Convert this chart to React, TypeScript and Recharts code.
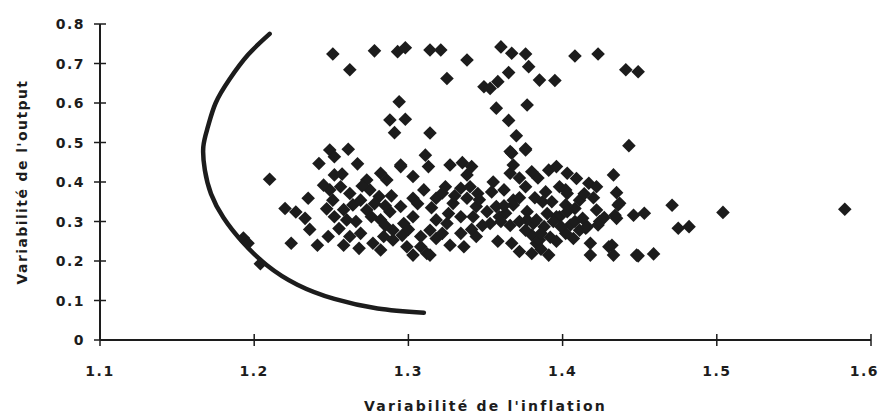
import React from 'react';
import { ComposedChart, Scatter, Line, XAxis, YAxis } from 'recharts';

// [inflation variability, output variability]
const upperPoints: [number, number][] = [
  [1.251, 0.724], [1.262, 0.684], [1.278, 0.732], [1.293, 0.730], [1.298, 0.740],
  [1.294, 0.603], [1.288, 0.557], [1.298, 0.559], [1.291, 0.525], [1.314, 0.524],
  [1.314, 0.734], [1.321, 0.734], [1.338, 0.709], [1.325, 0.662], [1.360, 0.742],
  [1.367, 0.726], [1.376, 0.724], [1.378, 0.692], [1.365, 0.677], [1.358, 0.654],
  [1.349, 0.641], [1.353, 0.637], [1.385, 0.658], [1.395, 0.657], [1.357, 0.587],
  [1.377, 0.595], [1.365, 0.556], [1.370, 0.517], [1.367, 0.473], [1.376, 0.484],
  [1.408, 0.719], [1.423, 0.724], [1.441, 0.684], [1.449, 0.679], [1.443, 0.492],
];

const leftPoints: [number, number][] = [
  [1.210, 0.407], [1.249, 0.481], [1.261, 0.483], [1.252, 0.464], [1.242, 0.447],
  [1.267, 0.446], [1.252, 0.418], [1.249, 0.380], [1.256, 0.388], [1.262, 0.371],
  [1.251, 0.354], [1.235, 0.359], [1.220, 0.333], [1.227, 0.324], [1.233, 0.308],
  [1.236, 0.280], [1.252, 0.312], [1.260, 0.304], [1.264, 0.342], [1.224, 0.245],
  [1.241, 0.240], [1.248, 0.262], [1.193, 0.258], [1.196, 0.245], [1.204, 0.193],
  [1.257, 0.420], [1.245, 0.392], [1.258, 0.330], [1.247, 0.332], [1.255, 0.282],
  [1.262, 0.262], [1.258, 0.240], [1.268, 0.232],
];

const middlePoints: [number, number][] = [
  [1.295, 0.443], [1.311, 0.468], [1.313, 0.439], [1.295, 0.439], [1.303, 0.414],
  [1.282, 0.422], [1.286, 0.405], [1.273, 0.405], [1.327, 0.443], [1.335, 0.449],
  [1.341, 0.439], [1.338, 0.418], [1.324, 0.388], [1.334, 0.384], [1.340, 0.388],
  [1.345, 0.371], [1.354, 0.375], [1.357, 0.338], [1.344, 0.338], [1.338, 0.359],
  [1.329, 0.346], [1.318, 0.359], [1.310, 0.380], [1.303, 0.359], [1.295, 0.338],
  [1.288, 0.325], [1.282, 0.304], [1.273, 0.329], [1.269, 0.354], [1.281, 0.363],
  [1.275, 0.380], [1.318, 0.304], [1.325, 0.295], [1.334, 0.312], [1.342, 0.312],
  [1.351, 0.325], [1.353, 0.295], [1.314, 0.278], [1.303, 0.312], [1.297, 0.295],
  [1.290, 0.278], [1.284, 0.262], [1.277, 0.245], [1.282, 0.228], [1.290, 0.253],
  [1.299, 0.236], [1.303, 0.215], [1.312, 0.219], [1.318, 0.257], [1.327, 0.240],
  [1.334, 0.270], [1.336, 0.236], [1.344, 0.262], [1.269, 0.270], [1.314, 0.215],
  [1.308, 0.236], [1.270, 0.390], [1.278, 0.345], [1.285, 0.340], [1.276, 0.312],
  [1.289, 0.365], [1.266, 0.300], [1.306, 0.345], [1.315, 0.335], [1.322, 0.372],
  [1.330, 0.365], [1.326, 0.320], [1.346, 0.355], [1.348, 0.290], [1.341, 0.280],
  [1.322, 0.270], [1.308, 0.262], [1.296, 0.265], [1.285, 0.290], [1.300, 0.280],
];

const rightPoints: [number, number][] = [
  [1.376, 0.481], [1.366, 0.477], [1.366, 0.422], [1.368, 0.443], [1.380, 0.426],
  [1.391, 0.430], [1.396, 0.439], [1.403, 0.422], [1.409, 0.409], [1.417, 0.397],
  [1.422, 0.388], [1.362, 0.380], [1.376, 0.388], [1.389, 0.375], [1.398, 0.388],
  [1.402, 0.380], [1.403, 0.371], [1.387, 0.350], [1.393, 0.350], [1.402, 0.342],
  [1.408, 0.333], [1.411, 0.354], [1.368, 0.342], [1.368, 0.354], [1.377, 0.325],
  [1.363, 0.321], [1.359, 0.312], [1.398, 0.312], [1.405, 0.291], [1.411, 0.278],
  [1.381, 0.295], [1.388, 0.287], [1.380, 0.266], [1.383, 0.245], [1.376, 0.278],
  [1.367, 0.245], [1.372, 0.224], [1.380, 0.219], [1.391, 0.215], [1.402, 0.270],
  [1.407, 0.257], [1.377, 0.304], [1.383, 0.304], [1.385, 0.253], [1.408, 0.300],
  [1.413, 0.308], [1.396, 0.312], [1.403, 0.325], [1.399, 0.287], [1.415, 0.283],
  [1.422, 0.329], [1.423, 0.291], [1.424, 0.300], [1.416, 0.287], [1.418, 0.245],
  [1.418, 0.215], [1.432, 0.240], [1.430, 0.236], [1.433, 0.215], [1.448, 0.215],
  [1.433, 0.418], [1.435, 0.373], [1.437, 0.346], [1.435, 0.308], [1.436, 0.342],
  [1.434, 0.316], [1.446, 0.316], [1.453, 0.321], [1.471, 0.341], [1.475, 0.283],
  [1.482, 0.287], [1.504, 0.323], [1.583, 0.331], [1.449, 0.213], [1.459, 0.218],
  [1.360, 0.300], [1.358, 0.250], [1.355, 0.400], [1.372, 0.360], [1.382, 0.360],
  [1.390, 0.320], [1.394, 0.300], [1.372, 0.300], [1.366, 0.290], [1.386, 0.270],
  [1.392, 0.260], [1.386, 0.230], [1.396, 0.250], [1.362, 0.340], [1.384, 0.410],
  [1.372, 0.410], [1.414, 0.370], [1.420, 0.360], [1.427, 0.310],
];

// frontier curve, read along the drawn arc from top to bottom
const frontier: [number, number][] = [
  [1.210, 0.775], [1.196, 0.722], [1.184, 0.660], [1.175, 0.600], [1.170, 0.540],
  [1.167, 0.489], [1.168, 0.430], [1.172, 0.370], [1.180, 0.310], [1.192, 0.250],
  [1.208, 0.190], [1.228, 0.140], [1.252, 0.104], [1.280, 0.080], [1.310, 0.069],
];

const xTicks = [1.1, 1.2, 1.3, 1.4, 1.5, 1.6];
const xTickLabels = ['1.1', '1.2', '1.3', '1.4', '1.5', '1.6'];
const yTicks = [0, 0.1, 0.2, 0.3, 0.4, 0.5, 0.6, 0.7, 0.8];
const yTickLabels = ['0', '0.1', '0.2', '0.3', '0.4', '0.5', '0.6', '0.7', '0.8'];

const toXY = (arr: [number, number][]) => arr.map(([x, y]) => ({ x, y }));
const scatterData = toXY([...upperPoints, ...leftPoints, ...middlePoints, ...rightPoints]);
const curveData = toXY(frontier);

const INK = '#1c1c1c';
const FONT = '"DejaVu Sans", Verdana, sans-serif';

const Diamond = (props: any) => {
  const { cx, cy } = props;
  if (cx == null || cy == null) return null;
  const r = 6.8;
  return (
    <path
      d={`M${cx},${cy - r}L${cx + r},${cy}L${cx},${cy + r}L${cx - r},${cy}Z`}
      fill={INK}
    />
  );
};

const XTick = (props: any) => {
  const { x, y, payload } = props;
  const i = xTicks.indexOf(payload.value);
  const isLast = i === xTicks.length - 1;
  return (
    <g>
      <line x1={x} x2={x} y1={y - 6} y2={y + 6} stroke={INK} strokeWidth={1.5} />
      <text x={isLast ? x + 8 : x} y={y + 31} textAnchor={isLast ? 'end' : 'middle'} dominantBaseline="central"
        fontSize={14} fontWeight="bold" letterSpacing={1.5} fill={INK} fontFamily={FONT}>
        {i >= 0 ? xTickLabels[i] : payload.value}
      </text>
    </g>
  );
};

const YTick = (props: any) => {
  const { x, y, payload } = props;
  const i = yTicks.indexOf(payload.value);
  return (
    <g>
      <line x1={x - 6} x2={x + 6} y1={y} y2={y} stroke={INK} strokeWidth={1.5} />
      <text x={x - 15} y={y} textAnchor="end" dominantBaseline="central"
        fontSize={14} fontWeight="bold" letterSpacing={1.5} fill={INK} fontFamily={FONT}>
        {i >= 0 ? yTickLabels[i] : payload.value}
      </text>
    </g>
  );
};

const App: React.FC = () => {
  return (
    <div style={{ position: 'absolute', left: 0, top: 0, width: 883, height: 418, background: '#fff' }}>
      <ComposedChart
        width={883}
        height={418}
        margin={{ top: 24, right: 12, bottom: 0, left: 0 }}
      >
        <XAxis
          type="number"
          dataKey="x"
          domain={[1.1, 1.6]}
          ticks={xTicks}
          allowDataOverflow
          height={78}
          tickSize={0}
          tickMargin={0}
          tickLine={false}
          tick={<XTick />}
          axisLine={{ stroke: INK, strokeWidth: 2 }}
          label={{
            value: "Variabilité de l'inflation",
            position: 'insideBottom',
            offset: 7,
            style: { fontSize: 14, fontWeight: 'bold', fill: INK, fontFamily: FONT, letterSpacing: 2.2 },
          }}
        />
        <YAxis
          type="number"
          dataKey="y"
          domain={[0, 0.8]}
          ticks={yTicks}
          allowDataOverflow
          width={100}
          tickSize={0}
          tickMargin={0}
          tickLine={false}
          tick={<YTick />}
          axisLine={{ stroke: INK, strokeWidth: 2 }}
          label={{
            value: "Variabilité de l'output",
            angle: -90,
            position: 'insideLeft',
            offset: 22,
            style: { fontSize: 14, fontWeight: 'bold', fill: INK, fontFamily: FONT, textAnchor: 'middle', letterSpacing: 1.4 },
          }}
        />
        <Scatter data={scatterData} shape={<Diamond />} isAnimationActive={false} />
        <Line
          data={curveData}
          dataKey="y"
          type="natural"
          stroke={INK}
          strokeWidth={4.5}
          strokeLinecap="round"
          dot={false}
          activeDot={false}
          isAnimationActive={false}
        />
      </ComposedChart>
    </div>
  );
};

export default App;
